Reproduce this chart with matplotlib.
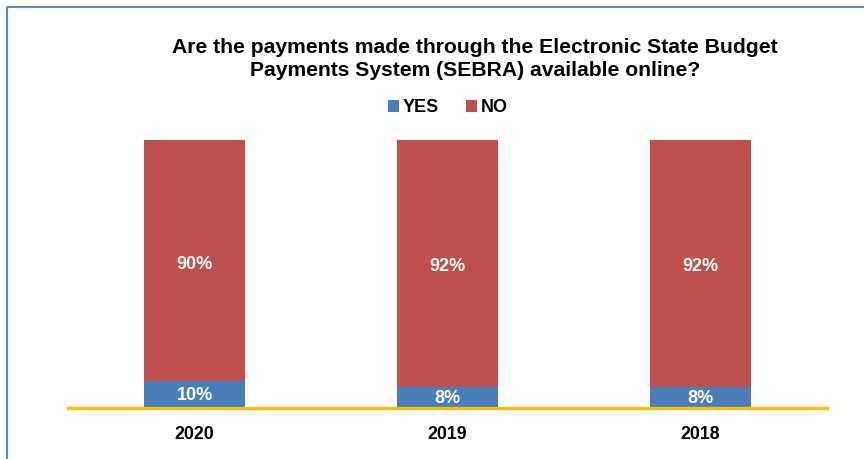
import matplotlib
matplotlib.use("Agg")
import matplotlib.pyplot as plt
from matplotlib.patches import Rectangle
import numpy as np

categories = ["2020", "2019", "2018"]
yes_vals = [10, 8, 8]
no_vals = [90, 92, 92]
series_names = ["YES", "NO"]
colors = ["#4A7EBB", "#C0504D"]

plt.rcParams['font.family'] = ['Liberation Sans', 'DejaVu Sans']

fig = plt.figure(figsize=(8.64, 4.59), dpi=100)
ax = fig.add_axes([68/864, 1-408/459, (827-68)/864, (408-140)/459])

x = np.arange(len(categories))
w = 0.396
b1 = ax.bar(x, yes_vals, w, color=colors[0], label=series_names[0], edgecolor="none")
b2 = ax.bar(x, no_vals, w, bottom=yes_vals, color=colors[1], label=series_names[1], edgecolor="none")

for i in range(len(categories)):
    ax.text(x[i], yes_vals[i]/2 - 0.3, f"{yes_vals[i]}%", ha="center", va="center",
            color="white", fontsize=13, fontweight="bold")
    ax.text(x[i], yes_vals[i] + no_vals[i]/2 - 1.3, f"{no_vals[i]}%", ha="center", va="center",
            color="white", fontsize=13, fontweight="bold")

ax.set_xlim(-0.5, 2.5)
ax.set_ylim(0, 100)
ax.set_yticks([])
ax.set_xticks(x)
ax.set_xticklabels(categories, fontsize=12.8, fontweight="bold")
ax.tick_params(axis="x", length=0, pad=13)
for s in ["top", "right", "left"]:
    ax.spines[s].set_visible(False)
ax.spines["bottom"].set_color("#FFC000")
ax.spines["bottom"].set_linewidth(2.4)

fig.text(475/864, 1-59/459,
         "Are the payments made through the Electronic State Budget\nPayments System (SEBRA) available online?",
         ha="center", va="center", fontsize=15.2, fontweight="bold", linespacing=1.22)

leg = fig.legend(handles=[b1, b2], labels=series_names, loc="center", bbox_to_anchor=(448/864, 1-108/459),
                 ncol=2, frameon=False, prop={"weight": "bold", "size": 13},
                 handlelength=0.6, handleheight=0.6, handletextpad=0.22, columnspacing=1.5)

border = Rectangle((7/864, -0.2), 1.2, 1.2 - 7/459, transform=fig.transFigure,
                   fill=False, edgecolor="#5B8BC4", linewidth=1.5)
fig.patches.append(border)

fig.savefig("out.png", dpi=100)
